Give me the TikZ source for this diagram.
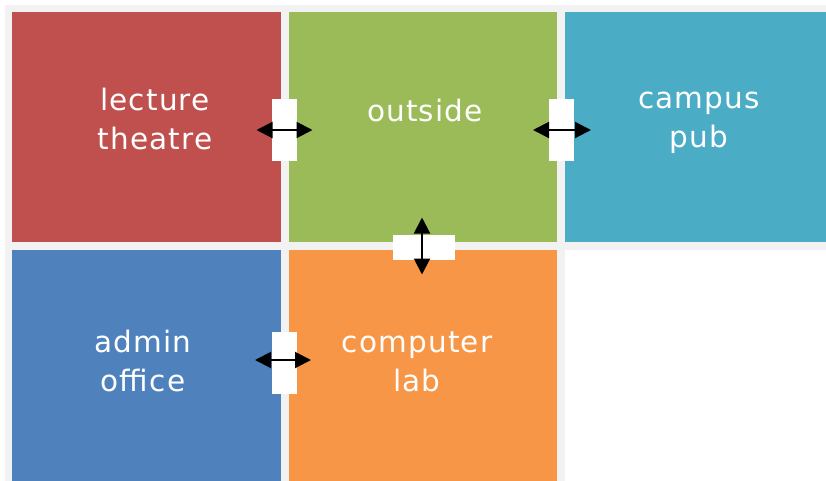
\documentclass[tikz,border=0pt]{standalone}
\usepackage{fontspec}
\setmainfont{DejaVu Sans}[LetterSpace=4]
\usetikzlibrary{arrows.meta}
\definecolor{bggray}{HTML}{F2F2F2}
\definecolor{roomred}{HTML}{C0504D}
\definecolor{roomgreen}{HTML}{9BBB59}
\definecolor{roomcyan}{HTML}{4BACC6}
\definecolor{roomblue}{HTML}{4F81BD}
\definecolor{roomorange}{HTML}{F79646}
\tikzset{
  room/.style={rectangle, draw=none, inner sep=0pt, outer sep=0pt, anchor=north west},
  roomlabel/.style={text=white, anchor=base, text width=220pt, align=center, inner sep=0pt,
    font=\fontsize{29.5}{39}\selectfont},
  doorv/.style={rectangle, fill=white, draw=none, inner sep=0pt, minimum width=25pt, minimum height=62pt},
  doorh/.style={rectangle, fill=white, draw=none, inner sep=0pt, minimum width=62pt, minimum height=25pt},
  passage/.style={draw=black, line width=2pt, {Triangle[length=16pt,width=16pt]}-{Triangle[length=16pt,width=16pt]}}
}
\begin{document}
\begin{tikzpicture}[x=1pt,y=-1pt]
\useasboundingbox (0,0) rectangle (826,480);
\clip (0,0) rectangle (826,480);
\fill[bggray] (5,5) rectangle (830,485);
% rooms
\node[room, fill=roomred, minimum width=269pt, minimum height=230pt] (lecture) at (12,12) {};
\node[room, fill=roomgreen, minimum width=268pt, minimum height=230pt] (outside) at (289,12) {};
\node[room, fill=roomcyan, minimum width=266pt, minimum height=230pt] (pub) at (565,12) {};
\node[room, fill=roomblue, minimum width=269pt, minimum height=236pt] (admin) at (12,250) {};
\node[room, fill=roomorange, minimum width=268pt, minimum height=236pt] (lab) at (289,250) {};
\node[room, fill=white, minimum width=266pt, minimum height=236pt] (empty) at (565,250) {};
% labels
\node[roomlabel] (lecturetext) at (155,110) {lecture\\theatre};
\node[roomlabel] (outsidetext) at (425,121) {outside};
\node[roomlabel] (pubtext) at (699,108) {campus\\pub};
\node[roomlabel] (admintext) at (143,352) {admin\\office};
\node[roomlabel] (labtext) at (417,352) {computer\\lab};
% doors
\node[doorv] (d1) at (284.5,130) {};
\node[doorv] (d2) at (561.5,130) {};
\node[doorh] (d3) at (424,247.5) {};
\node[doorv] (d4) at (284.5,362.5) {};
% passages
\draw[passage] ([xshift=-28pt]d1.center) -- ([xshift=28pt]d1.center);
\draw[passage] ([xshift=-28.5pt]d2.center) -- ([xshift=29.5pt]d2.center);
\draw[passage] ([xshift=-2pt,yshift=30pt]d3.center) -- ([xshift=-2pt,yshift=-27pt]d3.center);
\draw[passage] ([xshift=-29.5pt,yshift=2.5pt]d4.center) -- ([xshift=26.5pt,yshift=2.5pt]d4.center);
\end{tikzpicture}
\end{document}
